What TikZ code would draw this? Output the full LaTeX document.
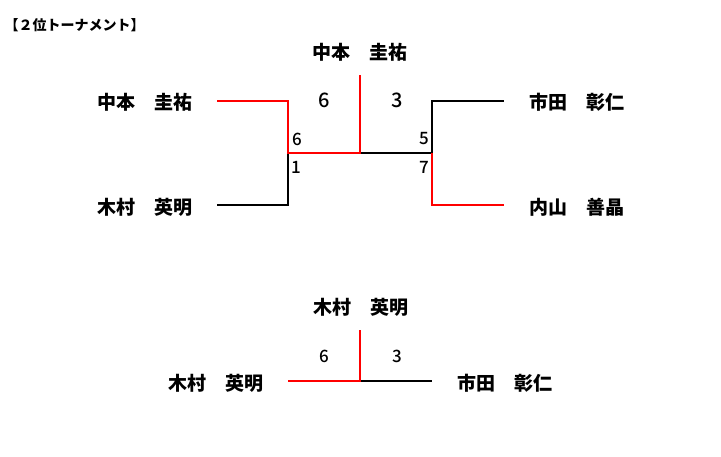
\documentclass[tikz,border=0pt]{standalone}
\usepackage{fontspec}
\setmainfont{Noto Sans CJK JP}
\newfontfamily\midfont{Noto Sans CJK JP Medium}
\usepackage{xcolor}
\definecolor{WinRed}{RGB}{255,0,0}
\usetikzlibrary{positioning,calc}

\tikzset{
  player/.style={font=\bfseries\fontsize{19}{19}\selectfont},
  bigscore/.style={font=\midfont\fontsize{20}{20}\selectfont},
  smallscore/.style={font=\midfont\fontsize{17}{17}\selectfont},
  winline/.style={WinRed, line width=2pt},
  loseline/.style={black, line width=2pt}
}

\begin{document}
\begin{tikzpicture}[x=1pt,y=-1pt]
\useasboundingbox (0,0) rectangle (721,457);

\node[anchor=west,font=\bfseries\fontsize{14}{14}\selectfont] (title) at (1,25) {【２位トーナメント】};

% first bracket
\coordinate (tl1) at (217,101);
\coordinate (tl2) at (217,205);
\coordinate (tlm) at (288,153);
\coordinate (tc)  at (360,153);
\coordinate (ttop) at (360,75);
\coordinate (trm) at (432,153);
\coordinate (tr1) at (504,101);
\coordinate (tr2) at (504,205);

\draw[loseline] (tl2) -| (tlm);
\draw[loseline] (tc) -- (trm) |- (tr1);
\draw[winline] (tl1) -| (tlm) -- (tc) -- (ttop);
\draw[winline] (trm) |- (tr2);

\node[player] (winA)   at (360,52)  {中本　圭祐};
\node[player] (nakamoto) at (145,102) {中本　圭祐};
\node[player] (kimuraA)  at (145,207) {木村　英明};
\node[player] (ichidaA)  at (577,102) {市田　彰仁};
\node[player] (uchiyama) at (577,207) {内山　善晶};

\node[bigscore] (sA1) at (324,100) {6};
\node[bigscore] (sA2) at (397,100) {3};
\node[smallscore] (p1) at (297,139) {6};
\node[smallscore] (p2) at (296,167) {1};
\node[smallscore] (p3) at (424,139) {5};
\node[smallscore] (p4) at (424,167) {7};

% second bracket
\coordinate (bl)   at (288,381);
\coordinate (bc)   at (360,381);
\coordinate (btop) at (360,330);
\coordinate (br)   at (432,381);

\draw[loseline] (bc) -- (br);
\draw[winline] (bl) -- (bc) -- (btop);

\node[player] (winB)    at (361,307) {木村　英明};
\node[player] (kimuraB) at (216,383) {木村　英明};
\node[player] (ichidaB) at (505,383) {市田　彰仁};

\node[smallscore] (sB1) at (324,356) {6};
\node[smallscore] (sB2) at (397,356) {3};
\end{tikzpicture}
\end{document}
